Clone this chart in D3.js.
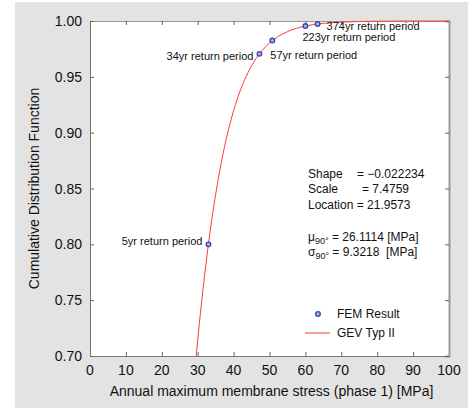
<!doctype html>
<html lang="en">
<head>
<meta charset="utf-8" />
<title>GEV fit of annual maximum membrane stress</title>
<script src="https://cdn.jsdelivr.net/npm/d3@7"></script>
<style>
  body { margin: 0; background: #fff; }
  text { font-family: "Liberation Sans", Arial, sans-serif; fill: #111; white-space: pre; }
</style>
</head>
<body>
<script>
// FEM results (return period points)
var femStress = [33.0, 47.2, 50.8, 60.0, 63.4];
var femCdf = [0.80, 0.9706, 0.9825, 0.9955, 0.9973];
var femLabels = ["5yr return period", "34yr return period", "57yr return period", "223yr return period", "374yr return period"];

// GEV Typ II curve
var gevStress = [29.58, 30, 32, 34, 36, 38, 40, 42, 44, 46, 48, 50, 55, 60, 65, 70, 80, 90, 100];
var gevCdf = [0.700, 0.7142, 0.7744, 0.8238, 0.8635, 0.8950, 0.9197, 0.9389, 0.9537, 0.9651, 0.9737, 0.9803, 0.9905, 0.9955, 0.9979, 0.9990, 0.9998, 1.0, 1.0];

var xTicks = [0, 10, 20, 30, 40, 50, 60, 70, 80, 90, 100];
var yTicks = [0.70, 0.75, 0.80, 0.85, 0.90, 0.95, 1.00];

var W = 468, H = 408;
var svg = d3.select("body").append("svg").attr("width", W).attr("height", H);

svg.append("rect").attr("x", 15).attr("y", 2).attr("width", W - 15).attr("height", H - 2).attr("fill", "#e3e3e3");

var L = 90, R = 449, T = 21, B = 356;
var x = d3.scaleLinear().domain([0, 100]).range([L, R]);
var y = d3.scaleLinear().domain([0.70, 1.00]).range([B, T]);

svg.append("rect").attr("x", L).attr("y", T).attr("width", R - L).attr("height", B - T).attr("fill", "#fff");

// axes, ticks inward
var gx = svg.append("g").attr("transform", "translate(0," + B + ")")
  .call(d3.axisTop(x).tickValues(xTicks).tickSize(4).tickFormat(""));
var gxt = svg.append("g").attr("transform", "translate(0," + T + ")")
  .call(d3.axisBottom(x).tickValues(xTicks).tickSize(4).tickFormat(""));
var gy = svg.append("g").attr("transform", "translate(" + L + ",0)")
  .call(d3.axisRight(y).tickValues(yTicks).tickSize(4).tickFormat(""));
var gyr = svg.append("g").attr("transform", "translate(" + R + ",0)")
  .call(d3.axisLeft(y).tickValues(yTicks).tickSize(4).tickFormat(""));
[gx, gxt, gy, gyr].forEach(function(g) {
  g.selectAll("path").attr("stroke", "#777").attr("stroke-width", 1);
  g.selectAll("line").attr("stroke", "#666");
});
gyr.select("path").attr("stroke", "#999").attr("stroke-width", 2);
gxt.select("path").attr("stroke", "#999");

// tick labels
svg.selectAll(".xl").data(xTicks).enter().append("text")
  .attr("x", function(d) { return x(d); }).attr("y", 375)
  .attr("text-anchor", "middle").attr("font-size", "14px")
  .text(function(d) { return d; });
svg.selectAll(".yl").data(yTicks).enter().append("text")
  .attr("x", 82).attr("y", function(d) { return y(d) + 5; })
  .attr("text-anchor", "end").attr("font-size", "14px")
  .text(function(d) { return d.toFixed(2); });

svg.append("text").attr("x", (L + R) / 2 + 2).attr("y", 396)
  .attr("text-anchor", "middle").attr("font-size", "14px")
  .text("Annual maximum membrane stress (phase 1) [MPa]");
svg.append("text").attr("transform", "translate(39," + ((T + B) / 2) + ") rotate(-90)")
  .attr("text-anchor", "middle").attr("font-size", "14px")
  .text("Cumulative Distribution Function");

// curve
svg.append("clipPath").attr("id", "clip").append("rect")
  .attr("x", L).attr("y", T - 1).attr("width", R - L).attr("height", B - T + 1);
var line = d3.line().x(function(d) { return x(d[0]); }).y(function(d) { return y(d[1]); }).curve(d3.curveMonotoneX);
svg.append("path").datum(d3.zip(gevStress, gevCdf))
  .attr("clip-path", "url(#clip)")
  .attr("d", line).attr("fill", "none").attr("stroke", "#ff3b3b").attr("stroke-width", 1);

// FEM points
svg.selectAll(".pt").data(d3.zip(femStress, femCdf)).enter().append("circle")
  .attr("cx", function(d) { return x(d[0]); }).attr("cy", function(d) { return y(d[1]); })
  .attr("r", 2.3).attr("fill", "#aab3e8").attr("stroke", "#3344aa").attr("stroke-width", 1.3);

// point annotations
var labelPos = [
  { dx: -6, dy: 1, anchor: "end" },
  { dx: -6, dy: 6, anchor: "end" },
  { dx: -2, dy: 18, anchor: "start" },
  { dx: -3, dy: 15, anchor: "start" },
  { dx: 9, dy: 6, anchor: "start" }
];
svg.selectAll(".an").data(femLabels).enter().append("text")
  .attr("x", function(d, i) { return x(femStress[i]) + labelPos[i].dx; })
  .attr("y", function(d, i) { return y(femCdf[i]) + labelPos[i].dy; })
  .attr("text-anchor", function(d, i) { return labelPos[i].anchor; })
  .attr("font-size", "11px")
  .text(function(d) { return d; });

// parameter box
var stats = svg.append("g").attr("font-size", "12px");
stats.append("text").attr("x", 308).attr("y", 178).text("Shape");
stats.append("text").attr("x", 357).attr("y", 178).text("= \u22120.022234");
stats.append("text").attr("x", 308).attr("y", 193).text("Scale");
stats.append("text").attr("x", 362).attr("y", 193).text("= 7.4759");
stats.append("text").attr("x", 308).attr("y", 209).text("Location = 21.9573");
var mu = stats.append("text").attr("x", 308).attr("y", 241);
mu.append("tspan").text("\u03bc");
mu.append("tspan").attr("dy", 3).attr("font-size", "9px").text("90\u00b0");
mu.append("tspan").attr("dy", -3).text(" = 26.1114 [MPa]");
var sg = stats.append("text").attr("x", 308).attr("y", 256);
sg.append("tspan").text("\u03c3");
sg.append("tspan").attr("dy", 3).attr("font-size", "9px").text("90\u00b0");
sg.append("tspan").attr("dy", -3).text(" = 9.3218  [MPa]");

// legend
svg.append("circle").attr("cx", 318).attr("cy", 314).attr("r", 2.3)
  .attr("fill", "#aab3e8").attr("stroke", "#3344aa").attr("stroke-width", 1.3);
svg.append("text").attr("x", 337).attr("y", 318).attr("font-size", "12px").text("FEM Result");
svg.append("line").attr("x1", 305).attr("x2", 330).attr("y1", 333).attr("y2", 333)
  .attr("stroke", "#ff3b3b").attr("stroke-width", 1);
svg.append("text").attr("x", 337).attr("y", 337).attr("font-size", "12px").text("GEV Typ II");
</script>
</body>
</html>
